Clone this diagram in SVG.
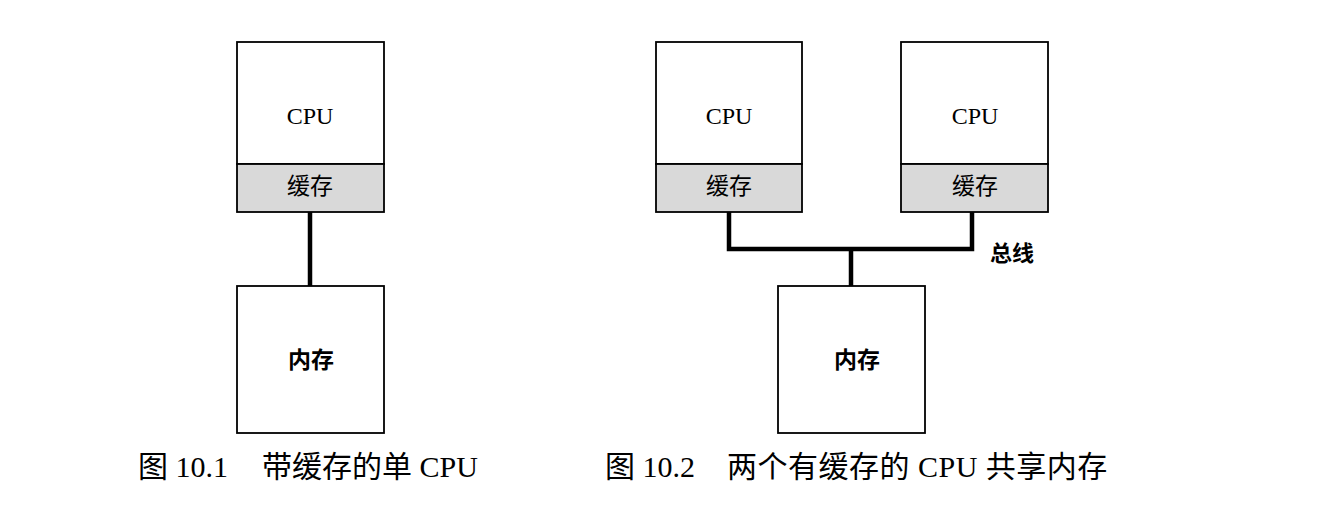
<svg xmlns="http://www.w3.org/2000/svg" width="1336" height="517" viewBox="0 0 1336 517">
<style>
.box{fill:#fff;stroke:#000;stroke-width:1.8}
.cache{fill:#d9d9d9;stroke:#000;stroke-width:1.8}
.wire{fill:none;stroke:#000;stroke-width:4.5}
.lat{font-family:"Liberation Serif","Noto Sans CJK SC",serif;font-size:24px;text-anchor:middle;fill:#000}
.cjk{font-family:"Noto Sans CJK SC",sans-serif;font-size:23px;text-anchor:middle;fill:#000}
.bold{font-weight:bold}
.cap{font-family:"Liberation Serif","Noto Sans CJK SC",serif;font-size:30px;fill:#000}
</style>
<rect width="1336" height="517" fill="#fff"/>
<g id="connectors">
<line class="wire" x1="310" y1="212" x2="310" y2="286"/>
<polyline class="wire" points="729,212 729,249 972,249 972,212"/>
<line class="wire" x1="851" y1="249" x2="851" y2="286"/>
</g>
<g id="cpu1">
<rect class="box" x="237" y="42" width="147" height="122"/>
<text class="lat" x="310" y="124">CPU</text>
</g>
<g id="cache1">
<rect class="cache" x="237" y="164" width="147" height="48"/>
<text class="cjk" x="310" y="194">缓存</text>
</g>
<g id="mem1">
<rect class="box" x="237" y="286" width="147" height="147"/>
<text class="cjk bold" x="311" y="368">内存</text>
</g>
<g id="cpu2">
<rect class="box" x="656" y="42" width="146" height="122"/>
<text class="lat" x="729" y="124">CPU</text>
</g>
<g id="cache2">
<rect class="cache" x="656" y="164" width="146" height="48"/>
<text class="cjk" x="729" y="194">缓存</text>
</g>
<g id="cpu3">
<rect class="box" x="901" y="42" width="147" height="122"/>
<text class="lat" x="975" y="124">CPU</text>
</g>
<g id="cache3">
<rect class="cache" x="901" y="164" width="147" height="48"/>
<text class="cjk" x="975" y="194">缓存</text>
</g>
<g id="mem2">
<rect class="box" x="778" y="286" width="147" height="147"/>
<text class="cjk bold" x="857" y="368">内存</text>
</g>
<g id="bus-label">
<text class="cjk bold" x="1012" y="261" style="font-size:22px">总线</text>
</g>
<g id="captions">
<text class="cap" x="138" y="477">图 10.1</text>
<text class="cap" x="262" y="477">带缓存的单 CPU</text>
<text class="cap" x="605" y="477">图 10.2</text>
<text class="cap" x="727" y="477" letter-spacing="0.5">两个有缓存的 CPU 共享内存</text>
</g>
</svg>
